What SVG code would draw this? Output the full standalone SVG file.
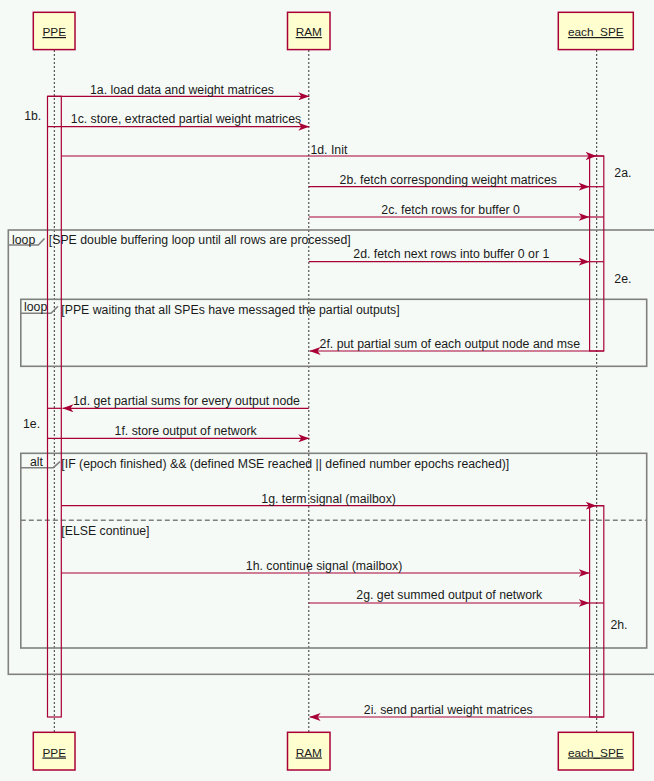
<svg xmlns="http://www.w3.org/2000/svg" width="654" height="781" viewBox="0 0 654 781">
<defs>
<style>
text{font-family:"Liberation Sans",Arial,sans-serif;font-size:12.3px;fill:#1a1a1a}
.part rect{fill:#FEFECE;stroke:#A80036;stroke-width:1.5}
.part text{text-anchor:middle;text-decoration:underline;font-size:11.8px}
.life{stroke:#333;stroke-width:1;stroke-dasharray:2,2;fill:none}
.act{fill:none;stroke:#A80036;stroke-width:1.2}
.msg{stroke:#A80036;stroke-width:1.2;fill:none}
.frame{fill:none;stroke:#808080;stroke-width:1.6}
.sep{stroke:#808080;stroke-width:1.6;stroke-dasharray:5,3;fill:none}
</style>
<marker id="ah" viewBox="0 0 11 8" refX="11" refY="4" markerWidth="11" markerHeight="8" markerUnits="userSpaceOnUse" orient="auto">
<path d="M0,0 L11,4 L0,8 L3,4 Z" fill="#A80036"/>
</marker>
</defs>
<rect x="0" y="0" width="654" height="781" fill="#F6FAF7"/>

<g id="lifelines">
<line class="life" x1="54.3" y1="50" x2="54.3" y2="732"/>
<line class="life" x1="308.8" y1="50" x2="308.8" y2="732"/>
<line class="life" x1="596.7" y1="50" x2="596.7" y2="732"/>
</g>

<g id="frames">
<rect class="frame" x="8.3" y="230" width="660" height="444.3"/>
<polyline class="frame" points="8.3,245 38.3,245 44.5,238.5"/>
<text x="12" y="243.5">loop</text>
<text x="48.8" y="244">[SPE double buffering loop until all rows are processed]</text>

<rect class="frame" x="20.8" y="299.3" width="625.9" height="67"/>
<polyline class="frame" points="20.8,313.3 51,313.3 58,306.3"/>
<text x="24" y="311">loop</text>
<text x="61.3" y="313.5">[PPE waiting that all SPEs have messaged the partial outputs]</text>

<rect class="frame" x="20.8" y="453.3" width="625.9" height="194.7"/>
<polyline class="frame" points="20.8,467.7 53.3,467.7 60,461.7"/>
<text x="30" y="466">alt</text>
<text x="61.3" y="467.5">[IF (epoch finished) &amp;&amp; (defined MSE reached || defined number epochs reached)]</text>
<line class="sep" x1="20.8" y1="520.3" x2="646.7" y2="520.3"/>
<text x="61.3" y="535">[ELSE continue]</text>
</g>

<g id="activations">
<rect class="act" x="47.5" y="96.3" width="13.8" height="620.7"/>
<rect class="act" x="589.6" y="156" width="14.2" height="195"/>
<rect class="act" x="589.6" y="505.7" width="14.2" height="211.3"/>
</g>

<g id="PPE" class="part">
<rect x="33.3" y="12.3" width="41.7" height="37.3"/>
<text x="54.2" y="36">PPE</text>
<rect x="33.3" y="732.3" width="41.7" height="37.7"/>
<text x="54.2" y="756.5">PPE</text>
</g>
<g id="RAM" class="part">
<rect x="287.5" y="12.3" width="42.5" height="37.3"/>
<text x="308.8" y="36">RAM</text>
<rect x="287.5" y="732.3" width="42.5" height="37.7"/>
<text x="308.8" y="756.5">RAM</text>
</g>
<g id="each_SPE" class="part">
<rect x="558.3" y="12.3" width="75" height="37.3"/>
<text x="595.8" y="36">each_SPE</text>
<rect x="558.3" y="732.3" width="75" height="37.7"/>
<text x="595.8" y="756.5">each_SPE</text>
</g>

<g id="connectors">
<line class="msg" x1="47.5" y1="96.3" x2="309.3" y2="96.3" marker-end="url(#ah)"/>
<line class="msg" x1="47.5" y1="126.7" x2="309.3" y2="126.7" marker-end="url(#ah)"/>
<line class="msg" x1="596.7" y1="156" x2="603.8" y2="156"/>
<line class="msg" x1="61.3" y1="156" x2="596.7" y2="156" marker-end="url(#ah)"/>
<line class="msg" x1="589.6" y1="186.7" x2="603.8" y2="186.7"/>
<line class="msg" x1="308.8" y1="186.7" x2="589.6" y2="186.7" marker-end="url(#ah)"/>
<line class="msg" x1="589.6" y1="217" x2="603.8" y2="217"/>
<line class="msg" x1="308.8" y1="217" x2="589.6" y2="217" marker-end="url(#ah)"/>
<line class="msg" x1="589.6" y1="261.7" x2="603.8" y2="261.7"/>
<line class="msg" x1="308.8" y1="261.7" x2="589.6" y2="261.7" marker-end="url(#ah)"/>
<line class="msg" x1="603.8" y1="351" x2="309.6" y2="351" marker-end="url(#ah)"/>
<line class="msg" x1="47.5" y1="408.3" x2="62" y2="408.3"/>
<line class="msg" x1="308.8" y1="408.3" x2="62.5" y2="408.3" marker-end="url(#ah)"/>
<line class="msg" x1="47.5" y1="438.3" x2="309.3" y2="438.3" marker-end="url(#ah)"/>
<line class="msg" x1="596.7" y1="505.7" x2="603.8" y2="505.7"/>
<line class="msg" x1="61.3" y1="505.7" x2="596.7" y2="505.7" marker-end="url(#ah)"/>
<line class="msg" x1="61.3" y1="573" x2="589.6" y2="573" marker-end="url(#ah)"/>
<line class="msg" x1="589.6" y1="603" x2="603.8" y2="603"/>
<line class="msg" x1="308.8" y1="603" x2="589.6" y2="603" marker-end="url(#ah)"/>
<line class="msg" x1="603.8" y1="717" x2="309.6" y2="717" marker-end="url(#ah)"/>
</g>

<g id="labels">
<text x="90" y="93.5">1a. load data and weight matrices</text>
<text x="24.2" y="120">1b.</text>
<text x="70.8" y="123">1c. store, extracted partial weight matrices</text>
<text x="310.4" y="153.5">1d. Init</text>
<text x="614.3" y="176.5">2a.</text>
<text x="339.6" y="183.5">2b. fetch corresponding weight matrices</text>
<text x="381.3" y="214">2c. fetch rows for buffer 0</text>
<text x="353.3" y="258">2d. fetch next rows into buffer 0 or 1</text>
<text x="614.3" y="283">2e.</text>
<text x="319.6" y="347.5">2f. put partial sum of each output node and mse</text>
<text x="73" y="405">1d. get partial sums for every output node</text>
<text x="23" y="427.5">1e.</text>
<text x="114.6" y="435">1f. store output of network</text>
<text x="261.3" y="502.5">1g. term signal (mailbox)</text>
<text x="245.8" y="570">1h. continue signal (mailbox)</text>
<text x="356.3" y="599">2g. get summed output of network</text>
<text x="610.4" y="629">2h.</text>
<text x="363.8" y="713.5">2i. send partial weight matrices</text>
</g>
</svg>
